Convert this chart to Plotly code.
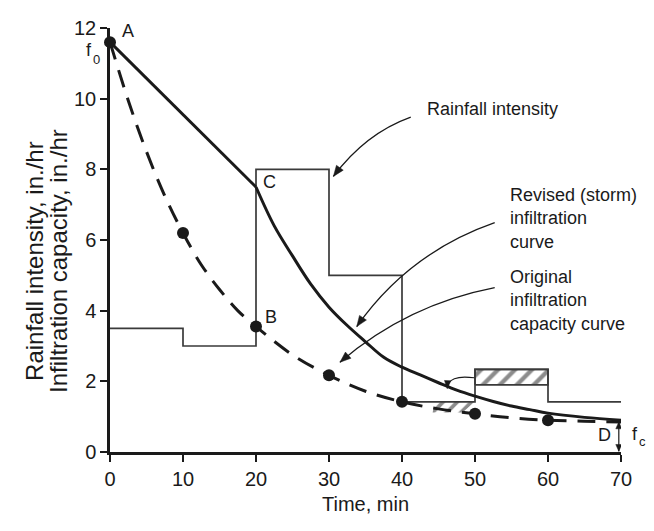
import plotly.graph_objects as go
import math

# ---------------- data ----------------
rain_t = [0, 10, 20, 30, 40, 50, 60, 70]
rain_f = [3.5, 3.0, 8.0, 5.0, 1.42, 2.34, 1.42, 1.42]

orig_t = [0, 2.5, 5, 7.5, 10, 12.5, 15, 17.5, 20, 25, 30, 35, 40, 45, 50, 55, 60, 65, 70]
orig_f = [11.6, 9.95, 8.5, 7.25, 6.2, 5.3, 4.6, 4.0, 3.55, 2.75, 2.17, 1.72, 1.42, 1.22, 1.08, 0.97, 0.9, 0.87, 0.85]

dot_t = [0, 10, 20, 30, 40, 50, 60]
dot_f = [11.6, 6.2, 3.55, 2.17, 1.42, 1.08, 0.9]

revised_t = [0, 20, 22.5, 25, 27.5, 30, 32.5, 35, 37.5, 40, 42.5, 45, 47.5, 50, 52.5, 55, 57.5, 60, 65, 70]
revised_f = [11.6, 7.5, 6.4, 5.55, 4.75, 4.1, 3.58, 3.12, 2.68, 2.4, 2.18, 1.96, 1.75, 1.58, 1.43, 1.3, 1.2, 1.1, 0.98, 0.9]

excess_box_t = [50, 60, 60, 50, 50]
excess_box_f = [1.9, 1.9, 2.34, 2.34, 1.9]

excess_small_t = [44.5, 50, 48.3, 44.2, 44.5]
excess_small_f = [1.42, 1.42, 1.12, 1.12, 1.42]

x_ticks = [0, 10, 20, 30, 40, 50, 60, 70]
y_ticks = [0, 2, 4, 6, 8, 10, 12]

y_title_lines = ["Rainfall intensity, in./hr", "Infiltration capacity, in./hr"]

# ---------------- layout geometry ----------------
# (page body has an 8 px margin, so the figure is shrunk/shifted by 8 px)
OFF = 8
W, H = 654 - OFF, 531 - OFF
ML, MR, MT, MB = 110 - OFF, 33, 17 - OFF, 79
XR, YR = (0, 70), (0, 12)
PW, PH = W - ML - MR, H - MT - MB
SX = PW / (XR[1] - XR[0])   # px per minute
SY = PH / (YR[1] - YR[0])   # px per in./hr

def paper_x(page_x):
    return (page_x - OFF - ML) / PW

def paper_y(page_y):
    return (MT + PH - (page_y - OFF)) / PH

FONT = "Liberation Sans, Arial, sans-serif"
INK = "#1a1a1a"
GREY = "#3a3a3a"

fig = go.Figure()

# hatched excess-rain areas
fig.add_trace(go.Scatter(x=excess_box_t, y=excess_box_f, mode="lines", fill="toself",
                         fillcolor="white",
                         fillpattern=dict(shape="/", size=12, solidity=0.36, fgcolor=INK, bgcolor="white"),
                         line=dict(color=GREY, width=1.7), hoverinfo="skip", showlegend=False))
fig.add_trace(go.Scatter(x=excess_small_t, y=excess_small_f, mode="lines", fill="toself",
                         fillcolor="white",
                         fillpattern=dict(shape="/", size=10, solidity=0.38, fgcolor=INK, bgcolor="white"),
                         line=dict(color="rgba(0,0,0,0)", width=0), hoverinfo="skip", showlegend=False))

# rainfall intensity (step)
fig.add_trace(go.Scatter(x=rain_t, y=rain_f, mode="lines", line=dict(color=GREY, width=1.7, shape="hv"),
                         hoverinfo="skip", showlegend=False, cliponaxis=False))

# original infiltration capacity curve (dashed)
fig.add_trace(go.Scatter(x=orig_t, y=orig_f, mode="lines",
                         line=dict(color=INK, width=3, dash="18px,11px", shape="spline", smoothing=1),
                         hoverinfo="skip", showlegend=False, cliponaxis=False))

# revised (storm) infiltration curve (solid)
fig.add_trace(go.Scatter(x=revised_t[:2], y=revised_f[:2], mode="lines",
                         line=dict(color=INK, width=3), hoverinfo="skip", showlegend=False, cliponaxis=False))
fig.add_trace(go.Scatter(x=revised_t[1:], y=revised_f[1:], mode="lines",
                         line=dict(color=INK, width=3, shape="spline", smoothing=1),
                         hoverinfo="skip", showlegend=False, cliponaxis=False))

# dots
fig.add_trace(go.Scatter(x=dot_t, y=dot_f, mode="markers", marker=dict(color=INK, size=12),
                         hoverinfo="skip", showlegend=False, cliponaxis=False))

# ---------------- arrows (drawn as shapes) ----------------
def arrowhead(tip, frm, length=11, half=4.2):
    dx = (tip[0] - frm[0]) * SX
    dy = -(tip[1] - frm[1]) * SY
    n = math.hypot(dx, dy)
    ux, uy = dx / n, dy / n
    bx, by = -ux * length, -uy * length
    px_, py_ = -uy * half, ux * half
    pts = [(0, 0), (bx + px_, by + py_), (bx - px_, by - py_)]
    d = " L ".join(f"{tip[0] + ox / SX},{tip[1] - oy / SY}" for ox, oy in pts)
    fig.add_shape(type="path", xref="x", yref="y", path=f"M {d} Z",
                  fillcolor=INK, line=dict(color=INK, width=0.5), layer="above")

def curved_arrow(p0, p1, p2, width=1.3, length=11, half=4.2):
    fig.add_shape(type="path", xref="x", yref="y",
                  path=f"M {p0[0]},{p0[1]} Q {p1[0]},{p1[1]} {p2[0]},{p2[1]}",
                  line=dict(color=INK, width=width))
    arrowhead(p2, p1, length, half)

curved_arrow((41.2, 9.48), (35.0, 9.02), (30.6, 7.8))
curved_arrow((52.7, 6.49), (40.9, 5.64), (33.8, 3.55))
curved_arrow((52.7, 4.65), (40.7, 4.17), (31.5, 2.54))
curved_arrow((49.9, 2.1), (46.3, 2.2), (46.2, 1.8), width=1.1, length=8, half=3.2)

# f_c double arrow at t = 70
fc_top, fc_bot = (69.7, 0.85), (69.7, 0.02)
fig.add_shape(type="line", xref="x", yref="y", x0=fc_top[0], y0=fc_top[1], x1=fc_bot[0], y1=fc_bot[1],
              line=dict(color=INK, width=1.2))
arrowhead(fc_top, fc_bot, length=7, half=3)
arrowhead(fc_bot, fc_top, length=7, half=3)

# ---------------- text labels ----------------
def label(x, y, txt, size=18, xanchor="center", yanchor="middle", align="center", xref="x", yref="y", **kw):
    fig.add_annotation(x=x, y=y, xref=xref, yref=yref, text=txt, showarrow=False,
                       font=dict(family=FONT, size=size, color=INK),
                       xanchor=xanchor, yanchor=yanchor, align=align, **kw)

label(2.5, 11.92, "A")
label(0, 11.37, "f", xshift=-21)
label(0, 11.12, "0", size=13, xshift=-14)
label(21.9, 7.64, "C")
label(22.0, 3.83, "B")
label(67.8, 0.47, "D")
label(70, 0.52, "f", xshift=14)
label(70, 0.30, "c", size=13, xshift=21)

label(43.15, 9.71, "Rainfall intensity", size=18, xanchor="left")
label(54.5, 6.6, "Revised (storm)<br>infiltration<br>curve", size=18, xanchor="left", align="left")
label(54.5, 4.28, "Original<br>infiltration<br>capacity curve", size=18, xanchor="left", align="left")

# axis titles
label(0.5, paper_y(505), "Time, min", size=20, xref="paper", yref="paper")
label(paper_x(35), paper_y(256), y_title_lines[0], size=24, xref="paper", yref="paper", textangle=-90)
label(paper_x(59), paper_y(256), y_title_lines[1], size=24, xref="paper", yref="paper", textangle=-90)

axis_style = dict(ticks="outside", ticklen=7, tickwidth=2, tickcolor=INK, showline=True,
                  linewidth=2.5, linecolor=INK, showgrid=False, zeroline=False,
                  tickfont=dict(size=20, color=INK, family=FONT), fixedrange=True,
                  ticklabeloverflow="allow")

fig.update_layout(
    width=W, height=H, margin=dict(l=ML, r=MR, t=MT, b=MB),
    paper_bgcolor="white", plot_bgcolor="white",
    font=dict(family=FONT, size=20, color=INK),
    xaxis=dict(range=list(XR), tickvals=x_ticks, **axis_style),
    yaxis=dict(range=list(YR), tickvals=y_ticks, **axis_style),
    showlegend=False,
)

fig.write_html("out.html")
